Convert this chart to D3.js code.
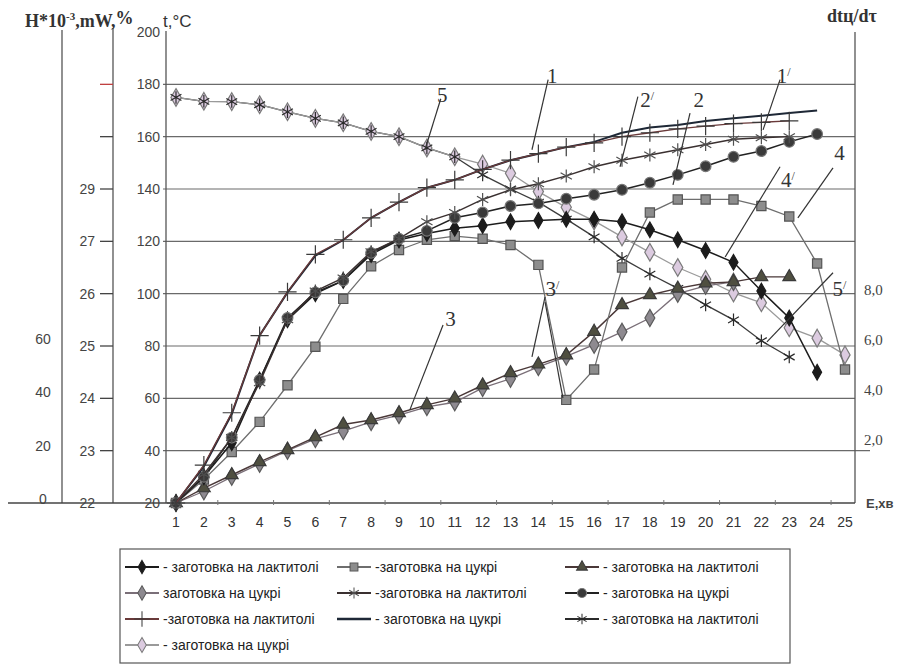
<!DOCTYPE html>
<html>
<head>
<meta charset="utf-8">
<script src="https://cdn.jsdelivr.net/npm/d3@7"></script>
<style>
  body { margin: 0; background: #fff; }
  svg { display: block; }
</style>
</head>
<body>
<div id="chart"></div>
<script>
// categories on the x axis (E, хв)
var categories = [1, 2, 3, 4, 5, 6, 7, 8, 9, 10, 11, 12, 13, 14, 15, 16, 17, 18, 19, 20, 21, 22, 23, 24, 25];

// tick labels
var tTicks = [20, 40, 60, 80, 100, 120, 140, 160, 180, 200];
var gridTicks = [40, 60, 80, 100, 120, 140, 160, 180];
var pctTickVals = [20, 40, 60, 80, 100, 120, 140, 160, 180];
var pctTickLabels = ['22', '23', '24', '25', '26', '27', '29', '', ''];
var hTicks = [0, 20, 40, 60];
var rightTicks = [2, 4, 6, 8];

// series (null = no point)
var lactDiamond = [20, 30, 43, 67, 90, 100, 105, 115, 120.5, 123, 125, 126, 127.5, 128, 128.4, 128.4, 127.5, 124.4, 120.6, 116.5, 112, 101, 90.7, 70, null];
var sugarSquare = [20, 29, 39.5, 51, 65, 79.7, 98, 110.5, 116.7, 120.6, 122, 121, 118.6, 111, 59.4, 71, 110, 131, 136, 136, 136, 133.5, 129.5, 111.5, 71];
var lactTriangle = [20, 25.7, 30.7, 35.7, 40.3, 45.2, 50, 51.7, 54.4, 57.5, 60, 65, 69.7, 73, 76.5, 85.5, 95.7, 99.5, 102, 104, 104.5, 106.4, 106.4, null, null];
var sugarGray = [20, 24.5, 30, 35, 40, 44.5, 47.5, 51, 53.6, 56.7, 58.5, 64, 67.5, 72, 76, 80.5, 85.4, 90.7, 100, 103, 104.5, null, null, null, null];
var lactStar = [20, 31, 45, 66, 90, 101, 106, 116, 121, 127.5, 131, 136, 139.7, 142, 145, 148.5, 151, 153, 155, 157, 159, 159.6, 160, null, null];
var sugarCircle = [20, 30, 45, 67, 90.7, 100.5, 105, 115.6, 121, 124, 129, 131, 133.5, 134.5, 136.3, 137.8, 139.7, 142.4, 145.4, 148.7, 152.3, 154.5, 158, 161, null];
var lactPlus = [20, 34.5, 54.5, 84, 100.7, 115, 120.6, 129, 135, 140.5, 143.5, 147.5, 151, 153.5, 156, 157.6, 160, 161.5, 163, 164, 165, 165.5, 166, null, null];
var sugarPlain = [20, 34, 54, 84, 100.5, 114.5, 120.5, 129, 135, 140.5, 143.5, 147.5, 151, 153.5, 156, 158, 161.5, 163.5, 164.5, 166, 167, 168, 169, 170, null];
var lactAsterisk = [175, 173.5, 173.4, 172.2, 169.5, 167, 165.3, 162, 160, 155.7, 152.3, 145.4, 140, 135, 128.5, 121.7, 113.5, 107.5, 102, 95.7, 90, 82, 75.8, null, null];
var sugarLight = [175, 173.5, 173.4, 172.2, 169.5, 167, 165.3, 162, 160, 155.7, 152.3, 149.5, 146, 139, 133, 127.8, 121.7, 115.8, 110, 105.5, 100.3, 96.5, 87, 83, 76.6];

var legendLabels = [
  '- заготовка на лактитолі', '-заготовка на цукрі', '- заготовка на лактитолі',
  'заготовка на цукрі', '-заготовка на лактитолі', '- заготовка на цукрі',
  '-заготовка на лактитолі', '- заготовка на цукрі', '- заготовка на лактитолі',
  '- заготовка на цукрі'
];

// curve labels: text position and leader lines, in data units (x = category, y = t)
var curveNames = ['5', '1', '2', '2', '1', '4', '4', '3', '3', '5'];
var curvePrimes = [false, false, true, false, true, false, true, false, true, true];
var curveTextPos = [[10.55, 176], [14.5, 183.5], [17.9, 174], [19.75, 174], [22.8, 183.5], [24.8, 154], [22.95, 143.5], [10.85, 90.5], [14.5, 102], [24.8, 102]];
var curveLeaders = [
  [[[10.5, 174.5], [9.93, 155]]],
  [[[14.35, 181.8], [13.77, 155]]],
  [[[17.57, 175.3], [16.93, 148.5]]],
  [[[19.44, 169], [18.83, 141.6]]],
  [[[22.67, 181.8], [22.06, 162.6]]],
  [[[24.57, 148.1], [23.31, 129]]],
  [[[22.67, 148.5], [20.7, 114]]],
  [[[10.58, 88], [9.39, 55.6]]],
  [[[14.24, 98.8], [13.77, 75.8]], [[14.24, 96.9], [14.88, 60.2]]],
  [[[24.57, 108], [22.2, 81.6]]]
];

var W = 911, H = 666;
var svg = d3.select('#chart').append('svg')
  .attr('width', W).attr('height', H)
  .attr('font-family', 'Liberation Sans, Arial, sans-serif');

var x = d3.scaleLinear().domain([1, 25]).range([176, 845]);
var y = d3.scaleLinear().domain([20, 200]).range([503, 32]);
var yRight = d3.scaleLinear().domain([2, 8]).range([440, 290]);
var yH = d3.scaleLinear().domain([0, 60]).range([499, 339]);
var axisLeftX = 166, axisRightX = 855, pctAxisX = 113, hAxisX = 62;

// gridlines
svg.append('g').selectAll('line').data(gridTicks).join('line')
  .attr('x1', axisLeftX - 3).attr('x2', function(d) { return d === 40 ? axisRightX + 15 : axisRightX; })
  .attr('y1', function(d) { return y(d); }).attr('y2', function(d) { return y(d); })
  .attr('stroke', '#6a6a6a').attr('stroke-width', 1.1);

// vertical axis lines
[[hAxisX, 30], [pctAxisX, 28], [axisLeftX, 31], [axisRightX, 32]].forEach(function(a) {
  svg.append('line').attr('x1', a[0]).attr('x2', a[0]).attr('y1', a[1]).attr('y2', y(20))
    .attr('stroke', '#555').attr('stroke-width', 1.3);
});
// baseline
svg.append('line').attr('x1', 8).attr('x2', axisRightX).attr('y1', y(20)).attr('y2', y(20))
  .attr('stroke', '#444').attr('stroke-width', 1.4);

// small ticks on the baseline
svg.append('g').selectAll('line').data(categories.filter(function(c) { return c % 2 === 0 && c < 25; })).join('line')
  .attr('x1', function(d) { return x(d + 0.5); }).attr('x2', function(d) { return x(d + 0.5); })
  .attr('y1', y(20) - 3).attr('y2', y(20) + 2).attr('stroke', '#777');

// t axis labels
svg.append('g').selectAll('text').data(tTicks).join('text')
  .attr('x', axisLeftX - 6).attr('y', function(d) { return y(d); })
  .attr('dy', '0.35em').attr('text-anchor', 'end')
  .attr('font-size', 14).attr('fill', '#444')
  .text(function(d) { return d; });

// % axis ticks and labels
svg.append('g').selectAll('line').data(pctTickVals.slice(1)).join('line')
  .attr('x1', pctAxisX - 13).attr('x2', pctAxisX)
  .attr('y1', function(d) { return y(d); }).attr('y2', function(d) { return y(d); })
  .attr('stroke', function(d) { return d === 180 ? '#c04040' : '#444'; }).attr('stroke-width', 1.3);
svg.append('g').selectAll('text').data(pctTickVals).join('text')
  .attr('x', pctAxisX - 18).attr('y', function(d) { return y(d); })
  .attr('dy', '0.35em').attr('text-anchor', 'end')
  .attr('font-size', 14).attr('fill', '#444')
  .text(function(d, i) { return pctTickLabels[i]; });

// H axis labels
svg.append('g').selectAll('text').data(hTicks).join('text')
  .attr('x', 43).attr('y', function(d) { return yH(d); })
  .attr('dy', '0.35em').attr('text-anchor', 'middle')
  .attr('font-size', 14).attr('fill', '#444')
  .text(function(d) { return d; });

// right axis labels
svg.append('g').selectAll('text').data(rightTicks).join('text')
  .attr('x', 864).attr('y', function(d) { return yRight(d); })
  .attr('dy', '0.35em').attr('text-anchor', 'start')
  .attr('font-family', 'Liberation Serif, serif')
  .attr('font-size', 15).attr('fill', '#444')
  .text(function(d) { return d.toFixed(1).replace('.', ','); });

// x labels
svg.append('g').selectAll('text').data(categories).join('text')
  .attr('x', function(d) { return x(d); }).attr('y', 527)
  .attr('text-anchor', 'middle').attr('font-size', 14).attr('fill', '#333')
  .text(function(d) { return d; });
svg.append('text').attr('x', 866).attr('y', 508)
  .attr('font-size', 13).attr('font-weight', 'bold').attr('fill', '#444').text('Е,хв');

// axis titles
var t1 = svg.append('text').attr('x', 25).attr('y', 27)
  .attr('font-family', 'Liberation Serif, serif').attr('font-size', 18).attr('font-weight', 'bold').attr('fill', '#333');
t1.append('tspan').text('H*10');
t1.append('tspan').attr('font-size', 11).attr('dy', -7).text('-3');
t1.append('tspan').attr('dy', 7).text(',mW,');
t1.append('tspan').attr('dy', -3).text('%');
svg.append('text').attr('x', 163).attr('y', 27)
  .attr('font-size', 17).attr('fill', '#333').text('t,°C');
svg.append('text').attr('x', 827).attr('y', 22)
  .attr('font-family', 'Liberation Serif, serif').attr('font-size', 18).attr('font-weight', 'bold').attr('fill', '#333')
  .text('dtц/dτ');

// series styles
function sym(type, size) { return d3.symbol().type(type).size(size)(); }
var seriesList = [
  { values: lactAsterisk, line: '#3c3c3c', width: 1.3, mark: null },
  { values: sugarLight, line: '#9a9a9a', width: 1.3, mark: sym(d3.symbolDiamond, 90), fill: '#dccbe0', stroke: '#7a7a7a' },
  { values: lactAsterisk, line: 'none', width: 0, mark: sym(d3.symbolAsterisk, 110), fill: 'none', stroke: '#2a2a2a' },
  { values: sugarGray, line: '#7a6f78', width: 1.3, mark: sym(d3.symbolDiamond, 85), fill: '#8e8a90', stroke: '#5a5a5a' },
  { values: lactTriangle, line: '#4a3838', width: 1.4, mark: sym(d3.symbolTriangle, 70), fill: '#4f4f40', stroke: '#3a3a3a' },
  { values: sugarSquare, line: '#6e6e6e', width: 1.3, mark: sym(d3.symbolSquare, 85), fill: '#8d8d8d', stroke: '#555' },
  { values: lactDiamond, line: '#1c1c1c', width: 1.5, mark: sym(d3.symbolDiamond, 70), fill: '#1c1c1c', stroke: '#1c1c1c' },
  { values: sugarCircle, line: '#222', width: 1.5, mark: sym(d3.symbolCircle, 90), fill: '#3a3a3a', stroke: '#777' },
  { values: lactStar, line: '#3a3030', width: 1.4, mark: sym(d3.symbolAsterisk, 120), fill: 'none', stroke: '#505050' },
  { values: sugarPlain, line: '#1e2836', width: 2, mark: null },
  { values: lactPlus, line: '#6a3a3a', width: 1.3, mark: sym(d3.symbolPlus, 110), fill: 'none', stroke: '#3a3a3a' }
];

var line = d3.line()
  .defined(function(d) { return d.v !== null; })
  .x(function(d) { return x(d.c); })
  .y(function(d) { return y(d.v); });

seriesList.forEach(function(s) {
  var pts = categories.map(function(c, i) { return { c: c, v: s.values[i] }; });
  var g = svg.append('g');
  g.append('path').datum(pts).attr('d', line)
    .attr('fill', 'none').attr('stroke', s.line).attr('stroke-width', s.width);
  if (s.mark) {
    g.selectAll('path.m').data(pts.filter(function(d) { return d.v !== null; })).join('path')
      .attr('class', 'm').attr('d', s.mark)
      .attr('transform', function(d) { return 'translate(' + x(d.c) + ',' + y(d.v) + ')'; })
      .attr('fill', s.fill).attr('stroke', s.stroke).attr('stroke-width', 1.2);
  }
});

// curve labels with leaders
curveNames.forEach(function(name, i) {
  curveLeaders[i].forEach(function(seg) {
    svg.append('line')
      .attr('x1', x(seg[0][0])).attr('y1', y(seg[0][1]))
      .attr('x2', x(seg[1][0])).attr('y2', y(seg[1][1]))
      .attr('stroke', '#333').attr('stroke-width', 1.2);
  });
  var t = svg.append('text')
    .attr('x', x(curveTextPos[i][0])).attr('y', y(curveTextPos[i][1]))
    .attr('dy', '0.35em').attr('text-anchor', 'middle')
    .attr('font-family', 'Liberation Serif, serif').attr('font-size', 21).attr('fill', '#333')
    .text(name);
  if (curvePrimes[i]) {
    t.append('tspan').attr('font-size', 12).attr('dy', -7).text('/');
  }
});

// legend
var legendCols = [125, 337, 565], legendRows = [567, 593, 619, 645];
svg.append('rect').attr('x', 120).attr('y', 549).attr('width', 670).attr('height', 114)
  .attr('fill', 'none').attr('stroke', '#555').attr('stroke-width', 1.2);
var legendStyles = [
  { line: '#1c1c1c', width: 1.5, mark: sym(d3.symbolDiamond, 70), fill: '#1c1c1c', stroke: '#1c1c1c' },
  { line: '#6e6e6e', width: 1.3, mark: sym(d3.symbolSquare, 85), fill: '#8d8d8d', stroke: '#555' },
  { line: '#4a3838', width: 1.4, mark: sym(d3.symbolTriangle, 70), fill: '#4f4f40', stroke: '#3a3a3a' },
  { line: '#7a6f78', width: 1.3, mark: sym(d3.symbolDiamond, 85), fill: '#8e8a90', stroke: '#5a5a5a' },
  { line: '#3a3030', width: 1.4, mark: sym(d3.symbolAsterisk, 120), fill: 'none', stroke: '#505050' },
  { line: '#222', width: 1.5, mark: sym(d3.symbolCircle, 90), fill: '#3a3a3a', stroke: '#777' },
  { line: '#6a3a3a', width: 1.3, mark: sym(d3.symbolPlus, 110), fill: 'none', stroke: '#3a3a3a' },
  { line: '#1e2836', width: 2, mark: null },
  { line: '#2a2a2a', width: 1.4, mark: sym(d3.symbolAsterisk, 110), fill: 'none', stroke: '#2a2a2a' },
  { line: '#9a9a9a', width: 1.3, mark: sym(d3.symbolDiamond, 90), fill: '#dccbe0', stroke: '#7a7a7a' }
];
legendLabels.forEach(function(label, i) {
  var s = legendStyles[i];
  var lx = legendCols[i % 3], ly = legendRows[Math.floor(i / 3)];
  var g = svg.append('g').attr('transform', 'translate(' + lx + ',' + ly + ')');
  g.append('line').attr('x1', 0).attr('x2', 34).attr('y1', 0).attr('y2', 0)
    .attr('stroke', s.line).attr('stroke-width', s.width + 0.6);
  if (s.mark) {
    g.append('path').attr('d', s.mark).attr('transform', 'translate(17,0) scale(0.85)')
      .attr('fill', s.fill).attr('stroke', s.stroke).attr('stroke-width', 1.2);
  }
  g.append('text').attr('x', 38).attr('y', 0).attr('dy', '0.35em')
    .attr('font-size', 14).attr('fill', '#222').text(label);
});
</script>
</body>
</html>
